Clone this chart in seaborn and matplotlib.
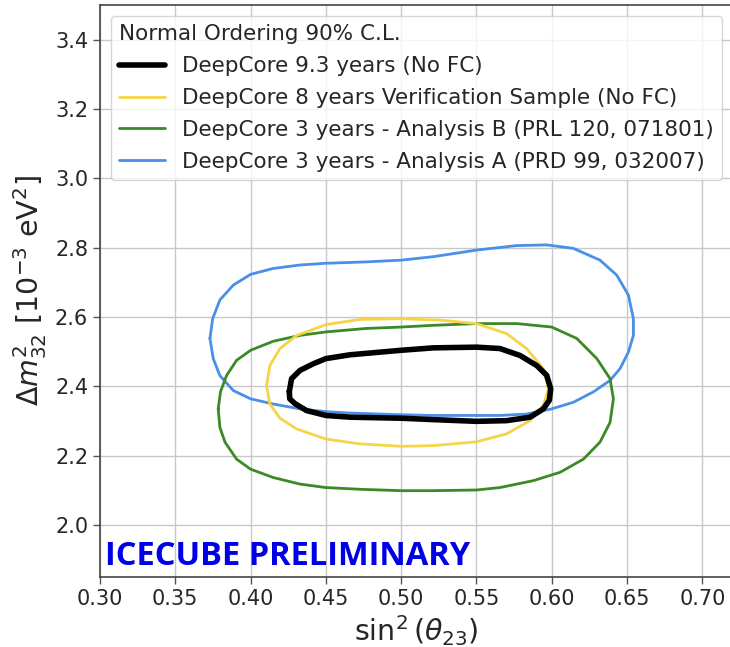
import matplotlib
matplotlib.use("Agg")
import matplotlib.pyplot as plt
import seaborn as sns
import pandas as pd

# 90% C.L. contours in (sin^2 theta23, dm^2_32 [1e-3 eV^2]), normal ordering
dc93_x = [0.4257, 0.4272, 0.4328, 0.4416, 0.450, 0.466, 0.500, 0.5213, 0.550, 0.5656, 0.5789,
          0.590, 0.5966, 0.5993, 0.5984, 0.5944, 0.5856, 0.570, 0.550, 0.5213, 0.500, 0.466,
          0.450, 0.4372, 0.4295, 0.426]
dc93_y = [2.385, 2.422, 2.446, 2.465, 2.480, 2.491, 2.504, 2.511, 2.513, 2.509, 2.489,
          2.460, 2.432, 2.393, 2.360, 2.335, 2.311, 2.301, 2.299, 2.304, 2.308, 2.311,
          2.316, 2.330, 2.350, 2.364]

dc8_x = [0.4106, 0.4128, 0.4195, 0.4306, 0.450, 0.4726, 0.500, 0.5258, 0.550, 0.570, 0.5833,
         0.5944, 0.5978, 0.5944, 0.5856, 0.570, 0.550, 0.5213, 0.500, 0.4726, 0.450, 0.4306,
         0.4195, 0.4128]
dc8_y = [2.402, 2.460, 2.509, 2.547, 2.578, 2.593, 2.595, 2.591, 2.581, 2.552, 2.509,
         2.451, 2.393, 2.345, 2.301, 2.263, 2.240, 2.229, 2.227, 2.234, 2.248, 2.277,
         2.308, 2.349]

anaB_x = [0.3785, 0.380, 0.384, 0.3907, 0.400, 0.415, 0.4328, 0.450, 0.477, 0.500, 0.5213,
          0.550, 0.5767, 0.600, 0.6166, 0.6299, 0.6387, 0.6409, 0.6387, 0.632, 0.621, 0.6055,
          0.5878, 0.5656, 0.550, 0.5213, 0.500, 0.4726, 0.450, 0.4328, 0.415, 0.400, 0.3907,
          0.383, 0.3796]
anaB_y = [2.335, 2.384, 2.431, 2.475, 2.504, 2.530, 2.547, 2.557, 2.567, 2.571, 2.576,
          2.581, 2.581, 2.571, 2.538, 2.480, 2.422, 2.364, 2.296, 2.239, 2.190, 2.152,
          2.128, 2.108, 2.101, 2.099, 2.099, 2.103, 2.108, 2.118, 2.137, 2.161, 2.190,
          2.239, 2.282]

anaA_x = [0.373, 0.3748, 0.3796, 0.3885, 0.400, 0.415, 0.4328, 0.450, 0.477, 0.500, 0.5213,
          0.550, 0.5767, 0.5966, 0.6143, 0.632, 0.6431, 0.6509, 0.6542, 0.6542, 0.6509, 0.6453,
          0.6387, 0.6276, 0.6143, 0.600, 0.5833, 0.5656, 0.550, 0.5213, 0.500, 0.466, 0.450,
          0.4328, 0.415, 0.400, 0.3885, 0.3796, 0.3752]
anaA_y = [2.538, 2.595, 2.649, 2.692, 2.723, 2.740, 2.750, 2.755, 2.759, 2.764, 2.774,
          2.793, 2.806, 2.808, 2.798, 2.764, 2.721, 2.663, 2.595, 2.547, 2.499, 2.451,
          2.417, 2.384, 2.354, 2.335, 2.320, 2.316, 2.316, 2.316, 2.318, 2.323, 2.327,
          2.335, 2.349, 2.364, 2.388, 2.431, 2.480]

labels = ["DeepCore 9.3 years (No FC)",
          "DeepCore 8 years Verification Sample (No FC)",
          "DeepCore 3 years - Analysis B (PRL 120, 071801)",
          "DeepCore 3 years - Analysis A (PRD 99, 032007)"]
colors = ["black", "#F5D547", "#3A8A26", "#4A90E8"]
widths = [4.0, 2.0, 2.0, 2.0]

sns.set_theme(style="ticks")
plt.rcParams["font.family"] = ["DejaVu Sans"]
plt.rcParams["mathtext.fontset"] = "dejavusans"

fig = plt.figure(figsize=(7.30, 6.47), dpi=100)
ax = fig.add_axes([100 / 730, 70 / 647, 632.5 / 730, 572 / 647])

contours = [(dc93_x, dc93_y), (dc8_x, dc8_y), (anaB_x, anaB_y), (anaA_x, anaA_y)]
# draw in reverse so the thick 9.3-year contour sits on top
for i in [3, 2, 1, 0]:
    xs, ys = contours[i]
    df = pd.DataFrame({"x": list(xs) + [xs[0]], "y": list(ys) + [ys[0]]})
    sns.lineplot(data=df, x="x", y="y", sort=False, estimator=None, ax=ax,
                 color=colors[i], linewidth=widths[i], label=labels[i],
                 solid_joinstyle="round")

ax.set_xlim(0.30, 0.72)
ax.set_ylim(1.85, 3.50)
ax.set_xticks([0.30, 0.35, 0.40, 0.45, 0.50, 0.55, 0.60, 0.65, 0.70])
ax.set_yticks([2.0, 2.2, 2.4, 2.6, 2.8, 3.0, 3.2, 3.4])
ax.set_xticklabels([f"{v:.2f}" for v in ax.get_xticks()])
ax.set_yticklabels([f"{v:.1f}" for v in ax.get_yticks()])
ax.tick_params(labelsize=15, length=5, width=1, color="#555555")
ax.grid(True, color="#c8c8c8", linewidth=1.0)
for side in ["left", "bottom", "top", "right"]:
    ax.spines[side].set_color("#444444")
    ax.spines[side].set_linewidth(1.2)

ax.set_xlabel(r"$\sin^2(\theta_{23})$", fontsize=20.5, labelpad=3)
ax.set_ylabel(r"$\Delta m^2_{32}$ [$10^{-3}$ eV$^2$]", fontsize=20.5, labelpad=4)

h, l = ax.get_legend_handles_labels()
lookup = dict(zip(l, h))
leg = ax.legend([lookup[t] for t in labels], labels, title="Normal Ordering 90% C.L.",
                loc="upper left", fontsize=15.5, title_fontsize=15.5, framealpha=0.8,
                handlelength=2.1, borderaxespad=0.5, labelspacing=0.55)
leg._legend_box.align = "left"

ax.text(0.303, 1.885, "ICECUBE PRELIMINARY", color="#0000E6", fontsize=23.5,
        fontweight="bold", family=["Open Sans", "DejaVu Sans"], ha="left", va="baseline")

fig.savefig("out.png", dpi=100)
